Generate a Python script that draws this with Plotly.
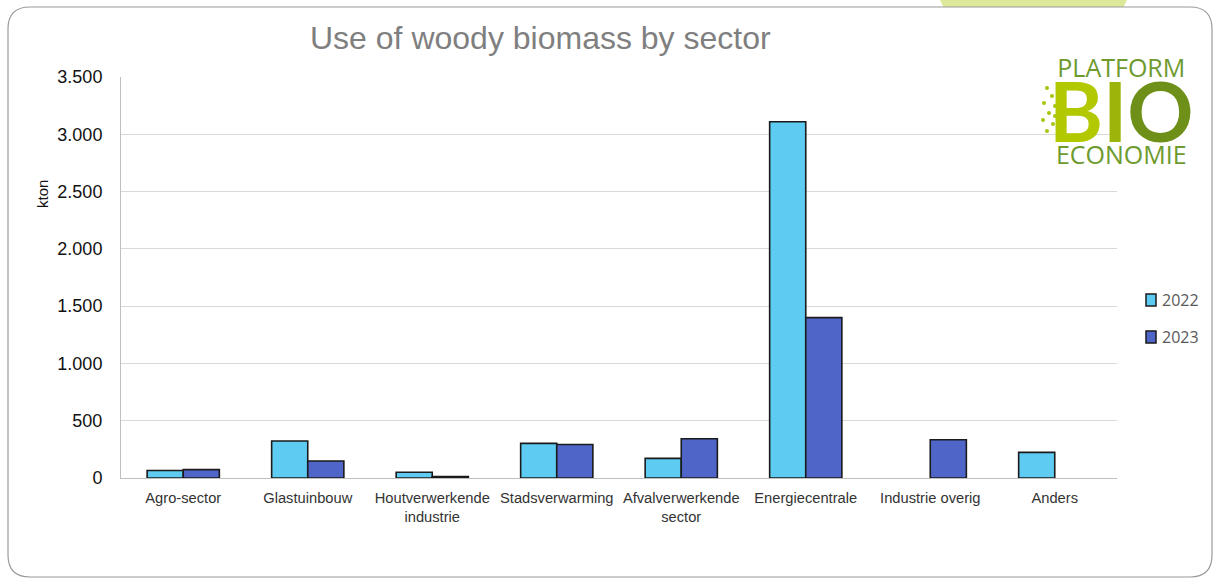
import plotly.graph_objects as go

# Sector categories and yearly use (kton)
sectors = ["Agro-sector", "Glastuinbouw", "Houtverwerkende<br>industrie", "Stadsverwarming",
           "Afvalverwerkende<br>sector", "Energiecentrale", "Industrie overig", "Anders"]
use_2022 = [65, 323, 50, 302, 171, 3110, None, 224]
use_2023 = [73, 148, 12, 293, 343, 1400, 334, None]
y_ticks = [0, 500, 1000, 1500, 2000, 2500, 3000, 3500]
years = ["2022", "2023"]
colors = ["#5ECCF2", "#4F66C8"]

W, H = 1213, 579
L, R, T, B = 121, 1117, 77, 478


def px(x):
    return (x - L) / (R - L)


def py(y):
    return (B - y) / (B - T)


fig = go.Figure()
for name, vals, col in zip(years, [use_2022, use_2023], colors):
    fig.add_trace(go.Bar(name=name, x=sectors, y=vals, showlegend=False,
                         marker=dict(color=col, line=dict(color="#1a1a1a", width=1.6))))

# Rounded slide frame (white panel) over a green disc peeking at the top
x0, y0, x1, y1, r = 8, 7, 1212, 577, 22
frame = (f"M {px(x0+r)} {py(y0)} L {px(x1-r)} {py(y0)} "
         f"Q {px(x1)} {py(y0)} {px(x1)} {py(y0+r)} L {px(x1)} {py(y1-r)} "
         f"Q {px(x1)} {py(y1)} {px(x1-r)} {py(y1)} L {px(x0+r)} {py(y1)} "
         f"Q {px(x0)} {py(y1)} {px(x0)} {py(y1-r)} L {px(x0)} {py(y0+r)} "
         f"Q {px(x0)} {py(y0)} {px(x0+r)} {py(y0)} Z")
shapes = [
    dict(type="circle", xref="paper", yref="paper",
         x0=px(933.5), x1=px(1133.5), y0=py(64), y1=py(-136),
         fillcolor="#DDE89A", line=dict(width=0), layer="below"),
    dict(type="path", path=frame, xref="paper", yref="paper", fillcolor="white",
         line=dict(color="#9a9a9a", width=1.2), layer="below"),
]

# small circuit dots beside the logo letters
dots = [(1047, 88), (1052, 96), (1044, 103), (1055, 106), (1049, 113),
        (1043, 120), (1053, 124), (1047, 131), (1055, 116)]
for dx, dy in dots:
    shapes.append(dict(type="circle", xref="paper", yref="paper",
                       x0=px(dx - 2), x1=px(dx + 2), y0=py(dy + 2), y1=py(dy - 2),
                       fillcolor="#A9C40C", line=dict(width=0), layer="above"))

# legend swatches
legend_rows = [300, 337]
for (ly, col) in zip(legend_rows, colors):
    shapes.append(dict(type="rect", xref="paper", yref="paper",
                       x0=px(1146), x1=px(1156), y0=py(ly + 6), y1=py(ly - 6),
                       fillcolor=col, line=dict(color="#1a1a1a", width=1.5), layer="above"))

ann_common = dict(xref="paper", yref="paper", showarrow=False, xanchor="center", yanchor="middle")

# logo block: one text with per-line sizes
small = "font-size:25px;color:#6E9A2E"
logo = (f"<span style='{small}'>PLATFORM</span><br> <br> <br>"
        "<span style='font-size:82px;font-family:Lato'><b>"
        "<span style='color:#B2C800'>B</span>"
        "<span style='color:#9DB50A'>I</span>"
        "<span style='color:#6E9018'>O</span></b></span><br>"
        f"<span style='{small}'>ECONOMIE</span>")

annotations = [
    dict(text="Use of woody biomass by sector", x=px(540), y=py(38),
         font=dict(family="Liberation Sans, Arial", size=32, color="#7F7F7F"), **ann_common),
    dict(text="kton", x=px(42), y=py(194), textangle=-90,
         font=dict(family="Liberation Sans, Arial", size=15, color="#111111"), **ann_common),
    dict(text=logo, x=px(1121), y=py(110), align="center",
         font=dict(family="Open Sans", size=16.7, color="#6E9A2E"), **ann_common),
]
for ly, name in zip(legend_rows, years):
    annotations.append(dict(text=name, x=px(1160), y=py(ly), xref="paper", yref="paper",
                            showarrow=False, xanchor="left", yanchor="middle",
                            font=dict(family="Open Sans", size=16, color="#595959")))

fig.update_layout(
    width=W, height=H,
    margin=dict(l=L, r=W - R, t=T, b=H - B, pad=0, autoexpand=False),
    paper_bgcolor="white", plot_bgcolor="rgba(0,0,0,0)",
    barmode="group", bargap=0.42, bargroupgap=0,
    separators=",.",
    showlegend=False,
    shapes=shapes, annotations=annotations,
    font=dict(family="Liberation Sans, Arial"),
)
fig.update_yaxes(range=[0, 3500], tickvals=y_ticks, tickformat=",d",
                 showgrid=True, gridcolor="#D9D9D9", gridwidth=1,
                 showline=True, linecolor="#BFBFBF", linewidth=1,
                 zeroline=False, ticks="", ticklabelstandoff=14,
                 tickfont=dict(family="Liberation Sans, Arial", size=18, color="#111111"))
fig.update_xaxes(showline=True, linecolor="#BFBFBF", linewidth=1, ticks="",
                 ticklabelstandoff=6,
                 tickfont=dict(family="Liberation Sans, Arial", size=14.7, color="#333333"))

fig.write_html("out.html")
